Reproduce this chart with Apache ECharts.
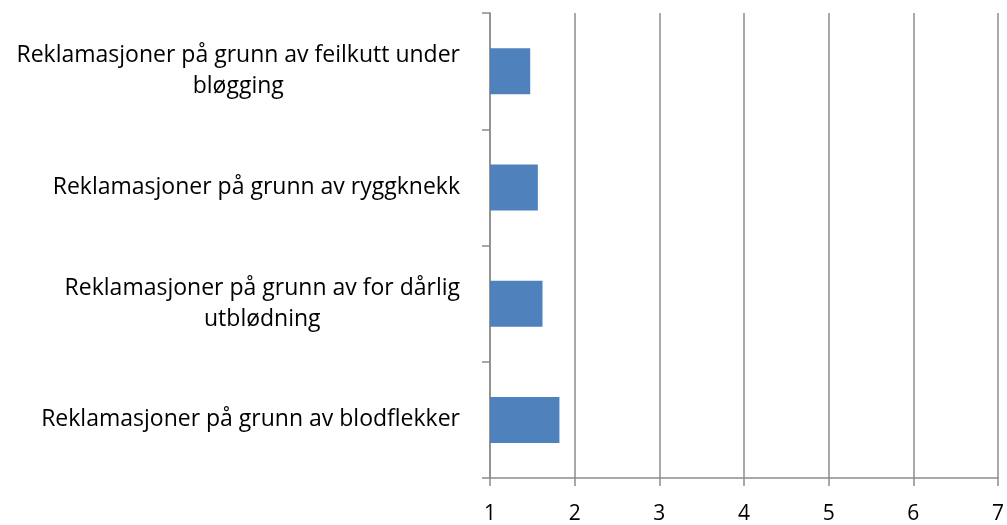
<!DOCTYPE html>
<html>
<head>
<meta charset="utf-8">
<script src="https://cdn.jsdelivr.net/npm/echarts@6/dist/echarts.min.js"></script>
<style>
    html, body { margin: 0; padding: 0; background: #fff; }
    #chart { width: 1007px; height: 525px; }
</style>
</head>
<body>
<div id="chart"></div>
<script>
// categories, top to bottom
const categories = [
    'Reklamasjoner på grunn av feilkutt under\nbløgging',
    'Reklamasjoner på grunn av ryggknekk',
    'Reklamasjoner på grunn av for dårlig\nutblødning',
    'Reklamasjoner på grunn av blodflekker'
];
const values = [1.475, 1.565, 1.62, 1.82];
const xTicks = [1, 2, 3, 4, 5, 6, 7];

const chart = echarts.init(document.getElementById('chart'));
const gray = '#8c8c8c';

const option = {
    animation: false,
    grid: { left: 490, right: 7, top: 13, bottom: 46 },
    xAxis: {
        type: 'value',
        min: xTicks[0],
        max: xTicks[xTicks.length - 1],
        interval: 1,
        axisLine: { show: true, lineStyle: { color: gray, width: 1.5 } },
        axisTick: { show: true, length: 8, lineStyle: { color: gray, width: 1.5 } },
        splitLine: { show: true, lineStyle: { color: gray, width: 1.5 } },
        axisLabel: { color: '#000', fontSize: 21, fontFamily: 'Open Sans', margin: 26 }
    },
    yAxis: {
        type: 'category',
        inverse: true,
        data: categories,
        axisLine: { show: true, lineStyle: { color: gray, width: 1.5 } },
        axisTick: { show: true, length: 8, lineStyle: { color: gray, width: 1.5 } },
        axisLabel: {
            margin: 30,
            align: 'right',
            formatter: function (v) {
                return v.split('\n').map(function (l) { return '{c|' + l + '}'; }).join('\n');
            },
            rich: {
                c: { align: 'center', color: '#000', fontSize: 23, fontFamily: 'Open Sans', lineHeight: 31 }
            }
        }
    },
    series: [{
        type: 'bar',
        data: values,
        barWidth: 46,
        itemStyle: { color: '#4f81bd' }
    }]
};
chart.setOption(option);
</script>
</body>
</html>
